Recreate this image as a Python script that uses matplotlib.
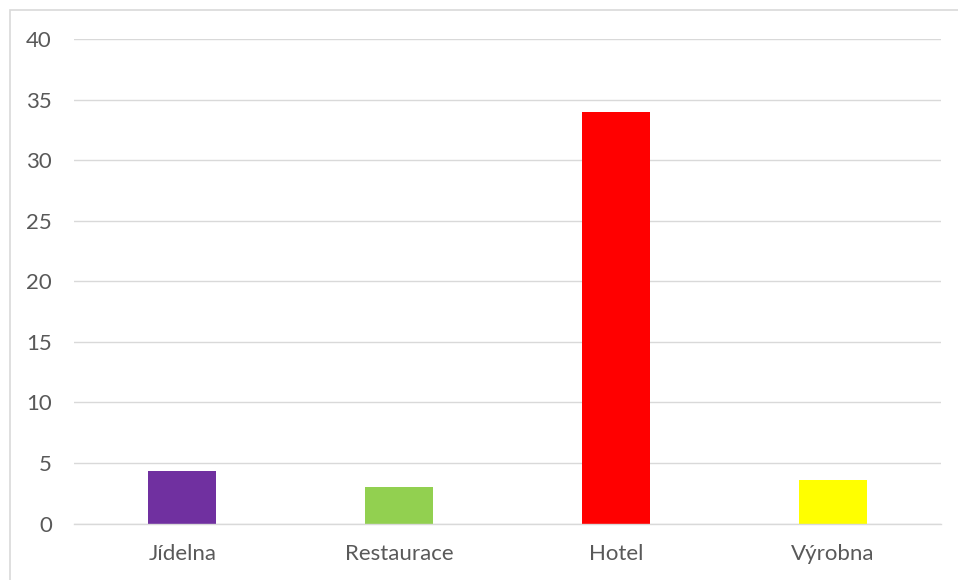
import matplotlib
matplotlib.use("Agg")
import matplotlib.pyplot as plt
from matplotlib.patches import Rectangle

categories = ["Jídelna", "Restaurace", "Hotel", "Výrobna"]
values = [4.3, 3.0, 34.0, 3.6]
colors = ["#7030a0", "#92d050", "#ff0000", "#ffff00"]
yticks = [0, 5, 10, 15, 20, 25, 30, 35, 40]

plt.rcParams['font.family'] = ['Lato', 'DejaVu Sans']
W, H = 958, 580
fig = plt.figure(figsize=(W / 100, H / 100), dpi=100)
fig.patch.set_facecolor("white")

# outer chart border
fig.patches.append(Rectangle((10 / W, -0.1), 1.2, 1.1 - 10 / H,
                             transform=fig.transFigure, fill=False,
                             edgecolor="#d9d9d9", linewidth=1.2))

ax = fig.add_axes([74 / W, (H - 523.5) / H, (941 - 74) / W, (523.5 - 39.3) / H])
x = range(len(categories))
ax.bar(x, values, width=0.314, color=colors, zorder=3)
ax.set_xlim(-0.5, len(categories) - 0.5)
ax.set_ylim(0, 40)
ax.set_yticks(yticks)
ax.set_yticklabels([str(v) for v in yticks])
ax.set_xticks(list(x))
ax.set_xticklabels(categories)
ax.grid(axis="y", color="#d9d9d9", linewidth=1.0, zorder=0)
for s in ["top", "right", "left"]:
    ax.spines[s].set_visible(False)
ax.spines["bottom"].set_color("#d9d9d9")
ax.spines["bottom"].set_linewidth(1.0)
ax.spines["bottom"].set_zorder(4)
ax.tick_params(axis="both", length=0, labelsize=16, labelcolor="#595959")
ax.tick_params(axis="y", pad=16)
ax.tick_params(axis="x", pad=15)

fig.savefig("out.png", dpi=100, facecolor="white")
